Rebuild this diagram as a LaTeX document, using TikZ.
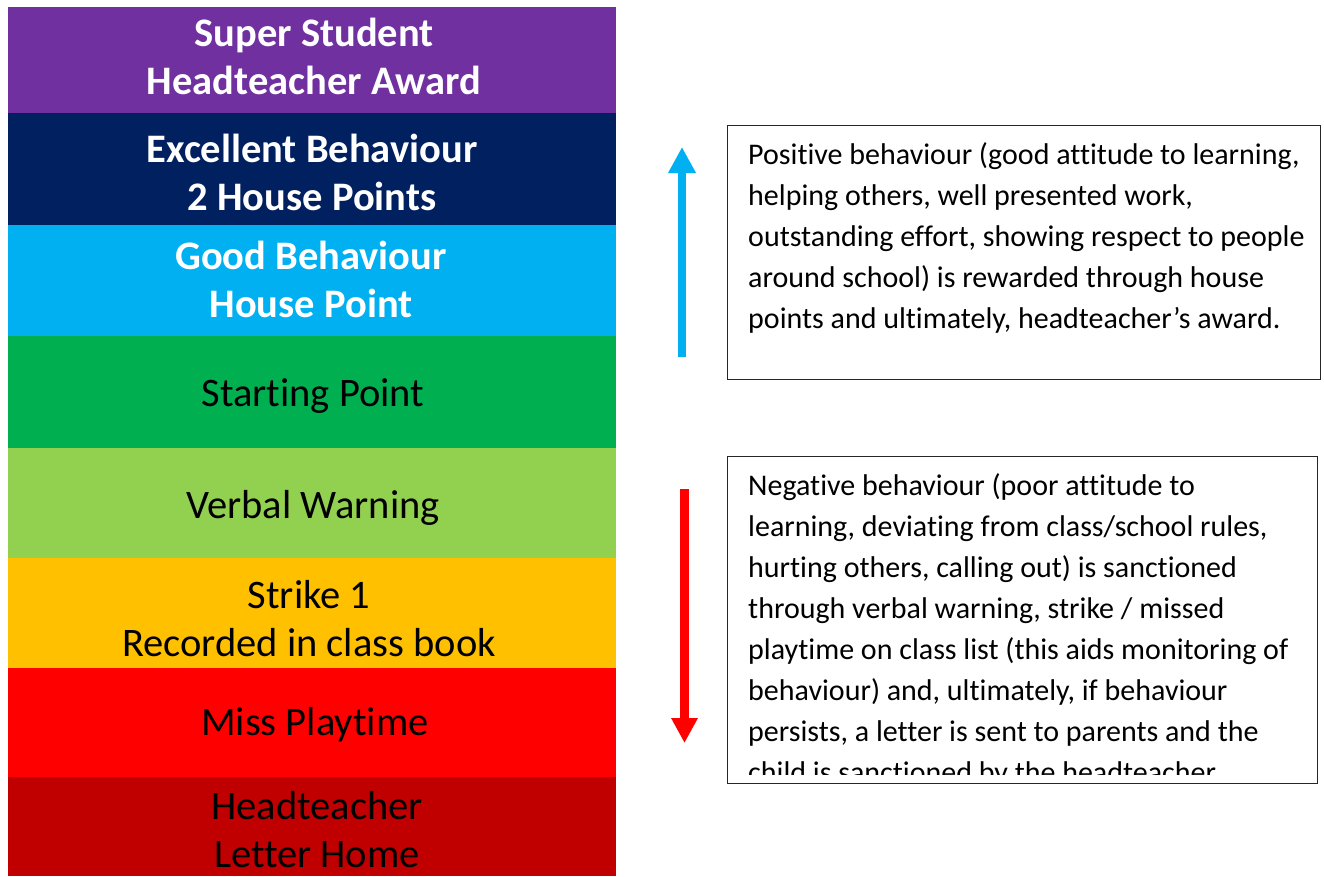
\documentclass[tikz,border=0pt]{standalone}
\usepackage{fontspec}
\setmainfont[Ligatures={NoCommon}]{Carlito}
\usetikzlibrary{arrows.meta}
\definecolor{cPurple}{HTML}{7030A0}
\definecolor{cNavy}{HTML}{002060}
\definecolor{cSky}{HTML}{00B0F0}
\definecolor{cGreen}{HTML}{00B050}
\definecolor{cLime}{HTML}{92D050}
\definecolor{cAmber}{HTML}{FFC000}
\definecolor{cRed}{HTML}{FF0000}
\definecolor{cDark}{HTML}{C00000}
\newcommand\topstrut{\rule{0pt}{30pt}}
\newcommand\botstrut{\rule[-10pt]{0pt}{10pt}}
\newcommand\boxstrut{\rule{0pt}{25pt}}
\tikzset{
  band/.style={rectangle, draw=none, inner sep=0pt, outer sep=0pt, minimum width=608pt, anchor=north west},
  bandtext/.style={inner sep=0pt, align=center, font=\fontsize{40.5}{48}\selectfont},
  wtext/.style={bandtext, text=white, font=\fontsize{40.5}{48}\selectfont\bfseries},
  ktext/.style={bandtext, text=black},
  infobox/.style={rectangle, draw=black!85, line width=1.3pt, inner sep=0pt, anchor=north west},
  boxtext/.style={inner sep=0pt, align=left, anchor=north west, text=black, font=\fontsize{30}{41}\selectfont},
  uparrow/.style={draw=cSky, line width=8.5pt, -{Triangle[width=26pt,length=26pt]}},
  downarrow/.style={draw=cRed, line width=8.5pt, -{Triangle[width=25pt,length=25pt]}}
}
\begin{document}
\begin{tikzpicture}[x=1pt,y=-1pt]
\useasboundingbox (0,0) rectangle (1324,876);
\fill[white] (0,0) rectangle (1324,876);
% bands
\node[band, fill=cPurple, minimum height=106pt] (b1) at (8,7) {};
\node[band, fill=cNavy,   minimum height=112pt] (b2) at (8,113) {};
\node[band, fill=cSky,    minimum height=111pt] (b3) at (8,225) {};
\node[band, fill=cGreen,  minimum height=112pt] (b4) at (8,336) {};
\node[band, fill=cLime,   minimum height=110pt] (b5) at (8,448) {};
\node[band, fill=cAmber,  minimum height=110pt] (b6) at (8,558) {};
\node[band, fill=cRed,    minimum height=109pt] (b7) at (8,668) {};
\node[band, fill=cDark,   minimum height=99pt]  (b8) at (8,777) {};
% band texts
\node[wtext] (t1) at (314,60)  {\topstrut Super Student\\Headteacher Award\botstrut};
\node[wtext] (t2) at (312,176) {\topstrut Excellent Behaviour\\2 House Points\botstrut};
\node[wtext] (t3) at (311,283) {\topstrut Good Behaviour\\House Point\botstrut};
\node[ktext] (t4) at (313,396) {\topstrut Starting Point\botstrut};
\node[ktext] (t5) at (313,508) {\topstrut Verbal Warning\botstrut};
\node[ktext] (t6) at (309,622) {\topstrut Strike 1\\Recorded in class book\botstrut};
\node[ktext] (t7) at (315,725) {\topstrut Miss Playtime\botstrut};
\node[ktext] (t8) at (317,833) {\topstrut Headteacher\\Letter Home\botstrut};
% arrows
\coordinate (up0) at (682,357);
\coordinate (up1) at (682,147);
\draw[uparrow] (up0) -- (up1);
\coordinate (dn0) at (684.5,489);
\coordinate (dn1) at (684.5,743);
\draw[downarrow] (dn0) -- (dn1);
% positive box
\node[infobox, minimum width=593pt, minimum height=254pt] (pbox) at (727,125) {};
\node[boxtext] (ptext) at (748,139) {\boxstrut Positive behaviour (good attitude to learning,\\helping others, well presented work,\\outstanding effort, showing respect to people\\around school) is rewarded through house\\points and ultimately, headteacher’s award.};
% negative box
\node[infobox, minimum width=590pt, minimum height=327pt] (nbox) at (727,456) {};
\begin{scope}
\clip (728,457) rectangle (1316,774);
\node[boxtext] (ntext) at (748,470) {\boxstrut Negative behaviour (poor attitude to\\learning, deviating from class/school rules,\\hurting others, calling out) is sanctioned\\through verbal warning, strike / missed\\playtime on class list (this aids monitoring of\\behaviour) and, ultimately, if behaviour\\persists, a letter is sent to parents and the\\child is sanctioned by the headteacher};
\end{scope}
\end{tikzpicture}
\end{document}
